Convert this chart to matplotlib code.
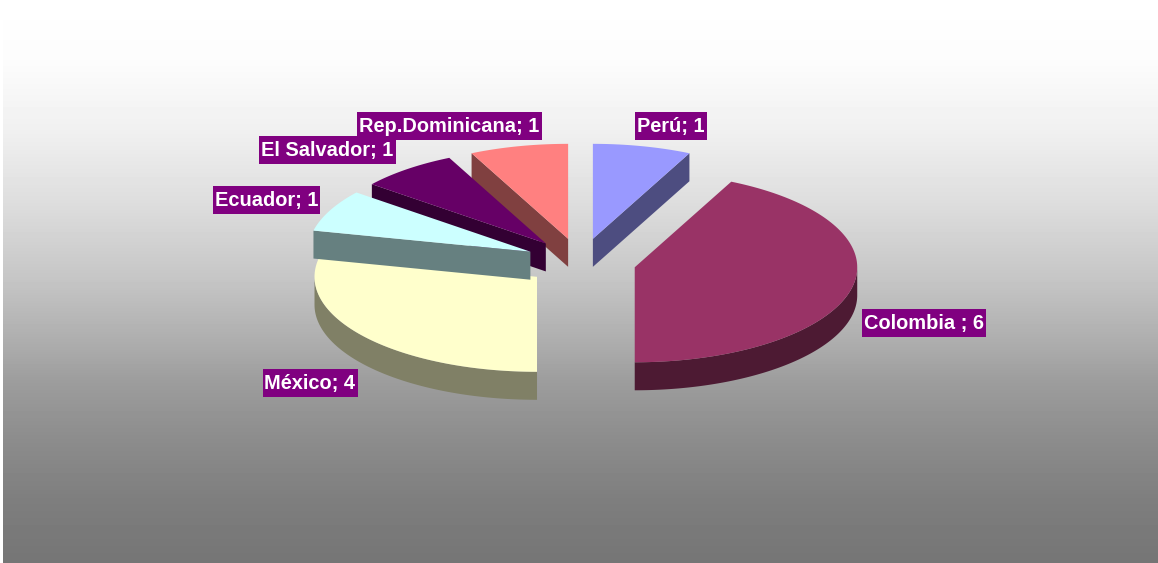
import matplotlib
matplotlib.use("Agg")
import matplotlib.pyplot as plt
from matplotlib.patches import Polygon, Rectangle
import numpy as np

plt.rcParams["font.family"] = ["Liberation Sans", "DejaVu Sans"]

# slices clockwise from 12 o'clock
countries = ["Perú", "Colombia ", "México", "Ecuador", "El Salvador", "Rep.Dominicana"]
counts = [1, 6, 4, 1, 1, 1]
top_colors = ["#9999FF", "#993366", "#FFFFCC", "#CCFFFF", "#660066", "#FF8080"]
side_colors = ["#4D4D80", "#4D1A33", "#808066", "#668080", "#330033", "#804040"]

# label centres in pixels
label_x = [671, 924, 310, 266.5, 327.5, 449.5]
label_y = [126, 323, 383, 200, 150, 126]

# back to front
draw_order = [0, 1, 5, 2, 4, 3]

center_x, center_y = 580.5, 262
rx, ry = 222.5, 95
depth = 28
explode = 0.25

W, H = 1158, 563
left = 3

# background grey along the height
fade_y = [0, 60, 130, 200, 280, 350, 380, 440, 500, 563]
fade_grey = [255, 252, 240, 222, 197, 170, 157, 140, 126, 117]

fractions = np.array(counts) / sum(counts)
ends = np.cumsum(fractions) * 2 * np.pi
starts = ends - fractions * 2 * np.pi


def ellipse_points(cx, cy, a, b):
    t = np.linspace(a, b, 120)
    return np.column_stack([cx + rx * np.sin(t), cy - ry * np.cos(t)])


fig = plt.figure(figsize=(W / 100, H / 100), dpi=100)
ax = fig.add_axes([left / W, 0, (W - left) / W, 1])
ax.set_xlim(left, W)
ax.set_ylim(H, 0)
ax.axis("off")

fade = np.interp(np.arange(H), fade_y, fade_grey).reshape(-1, 1)
ax.imshow(fade, cmap="gray", vmin=0, vmax=255, extent=(left, W, H, 0), aspect="auto", zorder=0)

z = 1
for i in draw_order:
    a, b = starts[i], ends[i]
    mid = (a + b) / 2
    cx = center_x + explode * rx * np.sin(mid)
    cy = center_y - explode * ry * np.cos(mid)
    arc = ellipse_points(cx, cy, a, b)
    down = np.array([0, depth])

    # walls on the cut edges
    for edge, visible in ((a, np.sin(a) < 0), (b, np.sin(b) > 0 and np.cos(b) > 0)):
        if visible:
            p = ellipse_points(cx, cy, edge, edge)[0]
            apex = np.array([cx, cy])
            ax.add_patch(Polygon([apex, p, p + down, apex + down], closed=True,
                                 fc=side_colors[i], ec="none", zorder=z))
    # outer rim, front half only
    lo, hi = max(a, np.pi / 2), min(b, 3 * np.pi / 2)
    if hi > lo:
        rim = ellipse_points(cx, cy, lo, hi)
        ax.add_patch(Polygon(np.vstack([rim, rim[::-1] + down]), closed=True,
                             fc=side_colors[i], ec="none", zorder=z))
    ax.add_patch(Polygon(np.vstack([[cx, cy], arc]), closed=True,
                         fc=top_colors[i], ec="none", zorder=z + 0.5))
    z += 1

texts = []
for name, n, x, y in zip(countries, counts, label_x, label_y):
    texts.append(ax.text(x, y + 0.5, "{}; {}".format(name, n), color="white", fontsize=14.4,
                         fontweight="bold", ha="center", va="center", zorder=21))

fig.canvas.draw()
renderer = fig.canvas.get_renderer()
for t, x, y in zip(texts, label_x, label_y):
    w = t.get_window_extent(renderer).width + 4
    ax.add_patch(Rectangle((x - w / 2, y - 14), w, 28, fc="#800080", ec="none", zorder=20))

fig.savefig("out.png", dpi=100)
